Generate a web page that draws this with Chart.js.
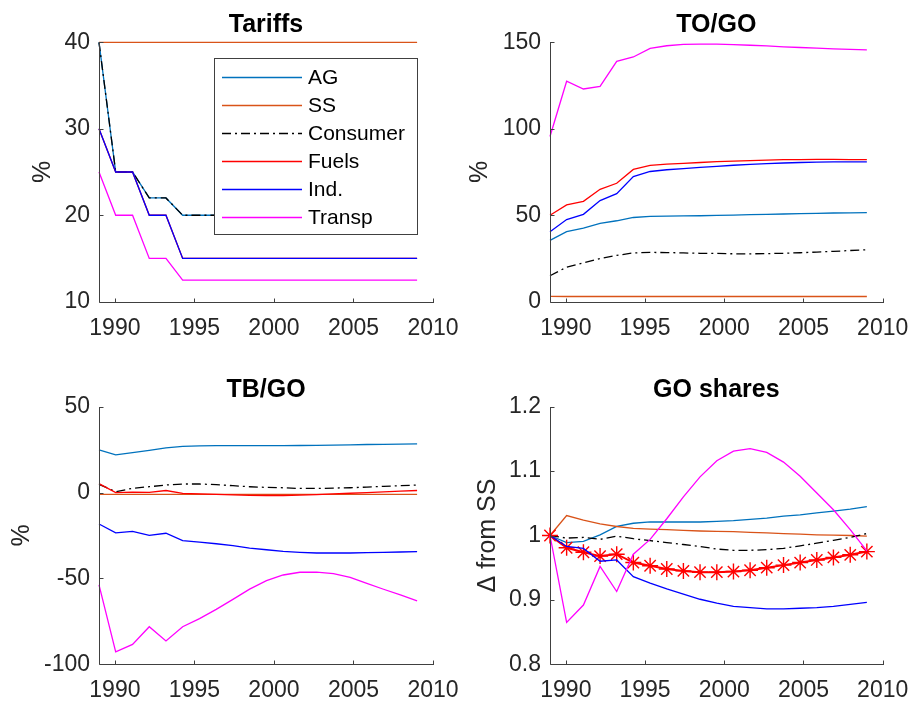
<!DOCTYPE html>
<html>
<head>
<meta charset="utf-8">
<script src="https://cdn.jsdelivr.net/npm/chart.js@4.4.1/dist/chart.umd.min.js"></script>
<style>
  body { margin: 0; background: #fff; }
  #wrap { position: relative; width: 914px; height: 706px; background: #fff; }
  #wrap canvas { position: absolute; left: 0; top: 0; }
</style>
</head>
<body>
<div id="wrap">
  <canvas id="tariffs" width="914" height="706"></canvas>
  <canvas id="togo" width="914" height="706"></canvas>
  <canvas id="tbgo" width="914" height="706"></canvas>
  <canvas id="goshares" width="914" height="706"></canvas>
</div>
<script>
// time axis (20 evenly spaced points, 1989 .. 2009)
const years = [1989, 1990.05, 1991.11, 1992.16, 1993.21, 1994.26, 1995.32, 1996.37, 1997.42, 1998.47,
  1999.53, 2000.58, 2001.63, 2002.68, 2003.74, 2004.79, 2005.84, 2006.89, 2007.95, 2009];
const seriesNames = ['AG', 'SS', 'Consumer', 'Fuels', 'Ind.', 'Transp'];
const xTicks = [1990, 1995, 2000, 2005, 2010];

// Tariffs
const tarAG       = [40, 25, 25, 22, 22, 20, 20, 20, 20, 20, 20, 20, 20, 20, 20, 20, 20, 20, 20, 20];
const tarSS       = [40, 40, 40, 40, 40, 40, 40, 40, 40, 40, 40, 40, 40, 40, 40, 40, 40, 40, 40, 40];
const tarConsumer = [40, 25, 25, 22, 22, 20, 20, 20, 20, 20, 20, 20, 20, 20, 20, 20, 20, 20, 20, 20];
const tarFuels    = [30, 25, 25, 20, 20, 15, 15, 15, 15, 15, 15, 15, 15, 15, 15, 15, 15, 15, 15, 15];
const tarInd      = [30, 25, 25, 20, 20, 15, 15, 15, 15, 15, 15, 15, 15, 15, 15, 15, 15, 15, 15, 15];
const tarTransp   = [25, 20, 20, 15, 15, 12.5, 12.5, 12.5, 12.5, 12.5, 12.5, 12.5, 12.5, 12.5, 12.5, 12.5, 12.5, 12.5, 12.5, 12.5];
const tarTicks    = [10, 20, 30, 40];

// TO/GO
const toAG       = [35.5, 40.5, 42.5, 45.3, 46.8, 48.7, 49.3, 49.5, 49.6, 49.7, 49.9, 50.1, 50.3, 50.5, 50.7, 50.9, 51.1, 51.3, 51.4, 51.5];
const toSS       = [3.1, 3, 3, 3, 3, 3, 3, 3, 3, 3, 3, 3, 3, 3, 3, 3, 3, 3, 3, 3];
const toConsumer = [15, 20, 22.5, 25, 26.8, 28.2, 28.5, 28.4, 28.2, 28, 27.9, 27.7, 27.7, 27.8, 28, 28.3, 28.7, 29.1, 29.6, 30];
const toFuels    = [50, 56, 58, 65, 68.5, 76.5, 78.8, 79.5, 80, 80.5, 81, 81.3, 81.6, 81.9, 82.1, 82.2, 82.3, 82.3, 82.2, 82.1];
const toInd      = [40.5, 47.5, 50.5, 58.5, 62.5, 72.3, 75.3, 76.3, 77, 77.7, 78.3, 78.9, 79.4, 79.8, 80.2, 80.5, 80.7, 80.8, 80.8, 80.8];
const toTransp   = [95.5, 127.5, 123, 124.5, 139, 141.5, 146.5, 148, 148.8, 149, 149, 148.7, 148.3, 147.9, 147.4, 147, 146.6, 146.2, 145.9, 145.6];
const toTicks    = [0, 50, 100, 150];

// TB/GO
const tbAG       = [24.8, 22, 23.2, 24.6, 26, 26.9, 27.2, 27.3, 27.3, 27.3, 27.3, 27.3, 27.4, 27.5, 27.6, 27.8, 28, 28.1, 28.2, 28.3];
const tbSS       = [-1, -1, -1, -1, -1, -1, -1, -1, -1, -1, -1, -1, -1, -1, -1, -1, -1, -1, -1, -1];
const tbConsumer = [4.8, 0.5, 2.5, 3.4, 4.4, 5, 5, 4.6, 4, 3.4, 3, 2.8, 2.4, 2.4, 2.6, 2.8, 3.2, 3.6, 4, 4.4];
const tbFuels    = [5.2, 0, 0.3, 0.1, 1.2, -0.5, -0.8, -1.1, -1.4, -1.6, -1.7, -1.7, -1.5, -1.2, -0.8, -0.4, 0, 0.4, 0.8, 1.2];
const tbInd      = [-18.3, -23.5, -22.6, -24.9, -23.7, -28, -28.8, -29.8, -30.9, -32.3, -33.3, -34.2, -34.8, -35.2, -35.2, -35.2, -35, -34.8, -34.6, -34.4];
const tbTransp   = [-53.8, -92.8, -88.4, -78.1, -86.4, -78.1, -73.4, -68, -62.2, -56.2, -51.3, -48, -46.4, -46.3, -47.2, -49.4, -52.9, -56.3, -59.6, -63.1];
const tbTicks    = [-100, -50, 0, 50];

// GO shares
const goAG       = [1, 0.989, 0.991, 1.001, 1.014, 1.019, 1.021, 1.021, 1.021, 1.021, 1.022, 1.023, 1.025, 1.027, 1.030, 1.032, 1.035, 1.038, 1.041, 1.045];
const goSS       = [1, 1.031, 1.024, 1.018, 1.014, 1.011, 1.010, 1.009, 1.008, 1.007, 1.0065, 1.006, 1.005, 1.004, 1.003, 1.002, 1.001, 1.0005, 1.0, 0.999];
const goConsumer = [1, 0.996, 0.997, 0.994, 0.999, 0.995, 0.992, 0.989, 0.986, 0.983, 0.979, 0.977, 0.977, 0.978, 0.980, 0.984, 0.988, 0.9925, 0.997, 1.003];
const goFuels    = [1, 0.981, 0.974, 0.968, 0.971, 0.958, 0.953, 0.948, 0.945, 0.943, 0.943, 0.944, 0.946, 0.950, 0.954, 0.958, 0.962, 0.966, 0.970, 0.975];
const goInd      = [1, 0.983, 0.980, 0.960, 0.962, 0.936, 0.926, 0.917, 0.909, 0.901, 0.895, 0.890, 0.888, 0.886, 0.886, 0.887, 0.888, 0.890, 0.893, 0.896];
const goTransp   = [1, 0.865, 0.892, 0.952, 0.913, 0.971, 0.994, 1.026, 1.060, 1.091, 1.116, 1.131, 1.135, 1.129, 1.114, 1.092, 1.066, 1.040, 1.009, 0.976];
const goTicks    = [0.8, 0.9, 1, 1.1, 1.2];

// MATLAB-ish look
const fontFamily = '"Liberation Sans", Arial, Helvetica, sans-serif';
const axisColor = '#404040';
const textColor = '#262626';
const lineColors = ['#0072BD', '#D95319', '#000000', '#FF0000', '#0000FF', '#FF00FF'];
const dashDot = [9, 4, 2, 4];
const yAxisWidth = 90;   // room for tick labels (labels are clipped to the scale box)
const xAxisHeight = 42;

Chart.defaults.font.family = fontFamily;

// axes spines, inward ticks, title, ylabel and (optional) boxed legend
const matlabAxes = {
  id: 'matlabAxes',
  afterDraw(chart, args, opts) {
    const ctx = chart.ctx;
    const a = chart.chartArea;
    const xs = chart.scales.x;
    const ys = chart.scales.y;
    const L = Math.round(a.left) + 0.5;
    const B = Math.round(a.bottom) + 0.5;

    ctx.save();
    ctx.setLineDash([]);
    ctx.strokeStyle = axisColor;
    ctx.lineWidth = 1;
    ctx.beginPath();
    ctx.moveTo(L, Math.round(a.top));
    ctx.lineTo(L, B);
    ctx.lineTo(Math.round(a.right) + 1, B);
    xs.ticks.forEach(t => {
      const px = Math.round(xs.getPixelForValue(t.value)) + 0.5;
      ctx.moveTo(px, B);
      ctx.lineTo(px, B - 4);
    });
    ys.ticks.forEach(t => {
      const py = Math.round(ys.getPixelForValue(t.value)) + 0.5;
      ctx.moveTo(L, py);
      ctx.lineTo(L + 4, py);
    });
    ctx.stroke();

    // title
    ctx.fillStyle = '#000';
    ctx.font = 'bold 25px ' + fontFamily;
    ctx.textAlign = 'center';
    ctx.textBaseline = 'alphabetic';
    ctx.fillText(opts.title, (a.left + a.right) / 2, a.top - 10);

    // y label
    ctx.save();
    ctx.translate(opts.ylabelX, (a.top + a.bottom) / 2);
    ctx.rotate(-Math.PI / 2);
    ctx.fillStyle = textColor;
    ctx.font = '25px ' + fontFamily;
    ctx.textAlign = 'center';
    ctx.textBaseline = 'middle';
    ctx.fillText(opts.ylabel, 0, 0);
    ctx.restore();

    // legend
    const lg = opts.legend;
    if (lg) {
      ctx.fillStyle = '#fff';
      ctx.fillRect(lg.x, lg.y, lg.w, lg.h);
      ctx.strokeStyle = axisColor;
      ctx.lineWidth = 1;
      ctx.strokeRect(lg.x + 0.5, lg.y + 0.5, lg.w, lg.h);
      ctx.font = '21px ' + fontFamily;
      ctx.textAlign = 'left';
      ctx.textBaseline = 'middle';
      chart.data.datasets.forEach((ds, i) => {
        const y = Math.round(lg.rowY + i * lg.rowStep) + 0.5;
        ctx.strokeStyle = ds.borderColor;
        ctx.lineWidth = 1.3;
        ctx.setLineDash(ds.borderDash || []);
        ctx.beginPath();
        ctx.moveTo(lg.lineX0, y);
        ctx.lineTo(lg.lineX1, y);
        ctx.stroke();
        ctx.setLineDash([]);
        ctx.fillStyle = '#000';
        ctx.fillText(ds.label, lg.textX, y + 1);
      });
    }
    ctx.restore();
  }
};

function makeDatasets(seriesList, starSeries) {
  return seriesList.map((vals, i) => {
    const ds = {
      label: seriesNames[i],
      data: years.map((x, k) => ({ x: x, y: vals[k] })),
      borderColor: lineColors[i],
      backgroundColor: lineColors[i],
      borderWidth: 1.3,
      borderDash: i === 2 ? dashDot : [],
      pointRadius: 0,
      pointHoverRadius: 0,
      tension: 0,
      clip: false,
      order: seriesList.length - i
    };
    if (i === starSeries) {
      ds.borderWidth = 2;
      ds.pointStyle = 'star';
      ds.pointRadius = 8;
      ds.pointBorderWidth = 1.4;
      ds.pointBorderColor = lineColors[i];
    }
    return ds;
  });
}

function makeChart(canvasId, cfg) {
  const area = cfg.area;
  return new Chart(document.getElementById(canvasId), {
    type: 'line',
    data: { datasets: makeDatasets(cfg.series, cfg.starSeries) },
    options: {
      responsive: false,
      animation: false,
      events: [],
      layout: {
        padding: {
          left: area.left - yAxisWidth,
          top: area.top,
          right: 914 - area.right,
          bottom: 706 - area.bottom - xAxisHeight
        }
      },
      scales: {
        x: {
          type: 'linear',
          min: 1989,
          max: 2010,
          afterBuildTicks: s => { s.ticks = xTicks.map(v => ({ value: v })); },
          afterFit: s => {
            s.height = xAxisHeight;
            // let the "2010" label hang over the edge like MATLAB does
            s.paddingLeft = 0;
            s.paddingRight = 0;
          },
          grid: { display: false, drawTicks: false },
          border: { display: false },
          ticks: {
            color: textColor,
            font: { size: 23 },
            padding: 13,
            maxRotation: 0,
            autoSkip: false,
            callback: v => String(v)
          }
        },
        y: {
          type: 'linear',
          min: cfg.yTicks[0],
          max: cfg.yTicks[cfg.yTicks.length - 1],
          afterBuildTicks: s => { s.ticks = cfg.yTicks.map(v => ({ value: v })); },
          afterFit: s => {
            s.width = yAxisWidth;
            s.paddingTop = 0;
            s.paddingBottom = 0;
          },
          grid: { display: false, drawTicks: false },
          border: { display: false },
          ticks: {
            color: textColor,
            font: { size: 23 },
            padding: 9,
            autoSkip: false,
            callback: v => String(Math.round(v * 10) / 10)
          }
        }
      },
      plugins: {
        legend: { display: false },
        title: { display: false },
        tooltip: { enabled: false },
        matlabAxes: {
          title: cfg.title,
          ylabel: cfg.ylabel,
          ylabelX: cfg.ylabelX,
          legend: cfg.legend || null
        }
      }
    },
    plugins: [matlabAxes]
  });
}

makeChart('tariffs', {
  title: 'Tariffs', ylabel: '%', ylabelX: 43,
  area: { left: 99, top: 42.3, right: 433, bottom: 301.7 },
  yTicks: tarTicks,
  series: [tarAG, tarSS, tarConsumer, tarFuels, tarInd, tarTransp],
  legend: { x: 214, y: 58, w: 203, h: 176, lineX0: 222, lineX1: 302, textX: 308, rowY: 77, rowStep: 27.9 }
});

makeChart('togo', {
  title: 'TO/GO', ylabel: '%', ylabelX: 480,
  area: { left: 550, top: 42.3, right: 882.7, bottom: 301.7 },
  yTicks: toTicks,
  series: [toAG, toSS, toConsumer, toFuels, toInd, toTransp]
});

makeChart('tbgo', {
  title: 'TB/GO', ylabel: '%', ylabelX: 22,
  area: { left: 99, top: 406.7, right: 433, bottom: 664.3 },
  yTicks: tbTicks,
  series: [tbAG, tbSS, tbConsumer, tbFuels, tbInd, tbTransp]
});

makeChart('goshares', {
  title: 'GO shares', ylabel: '\u0394 from SS', ylabelX: 488,
  area: { left: 550, top: 406.7, right: 882.7, bottom: 664.3 },
  yTicks: goTicks,
  series: [goAG, goSS, goConsumer, goFuels, goInd, goTransp],
  starSeries: 3
});
</script>
</body>
</html>
